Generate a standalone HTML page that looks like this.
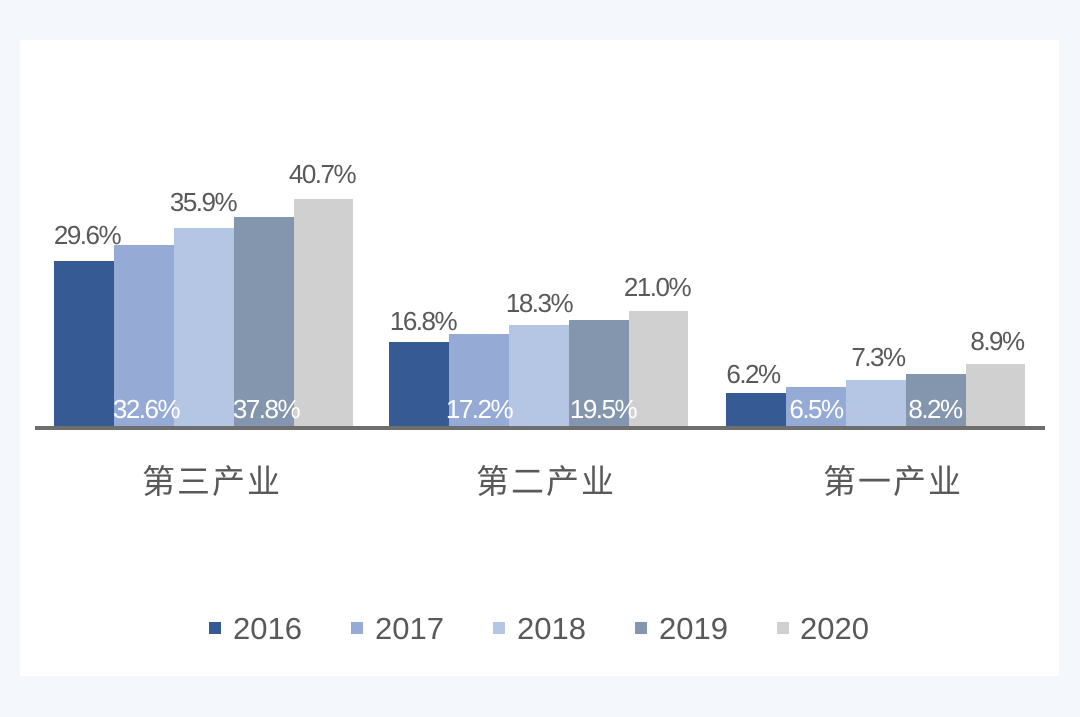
<!DOCTYPE html>
<html><head><meta charset="utf-8"><style>
body{margin:0;background:#f4f8fd;}
</style></head><body>
<svg width="1080" height="717" xmlns="http://www.w3.org/2000/svg" style="display:block">
<rect x="0" y="0" width="1080" height="717" fill="#f4f8fd"/>
<rect x="20" y="40" width="1039" height="636" fill="#ffffff"/>
<g font-family="Liberation Sans, DejaVu Sans, sans-serif" font-size="26" fill="#595959" text-anchor="middle" letter-spacing="-1.5">
<rect x="54" y="261" width="60" height="167" fill="#365a93"/>
<rect x="114" y="245" width="60" height="183" fill="#95abd6"/>
<rect x="174" y="228" width="60" height="200" fill="#b5c6e5"/>
<rect x="234" y="217" width="60" height="211" fill="#8496ae"/>
<rect x="294" y="199" width="59" height="229" fill="#d0d0d0"/>
<text x="87" y="244">29.6%</text>
<text x="203" y="211">35.9%</text>
<text x="322" y="183">40.7%</text>
<text x="146" y="418" fill="#fff">32.6%</text>
<text x="266" y="418" fill="#fff">37.8%</text>
<rect x="389" y="342" width="60" height="86" fill="#365a93"/>
<rect x="449" y="334" width="60" height="94" fill="#95abd6"/>
<rect x="509" y="325" width="60" height="103" fill="#b5c6e5"/>
<rect x="569" y="320" width="60" height="108" fill="#8496ae"/>
<rect x="629" y="311" width="59" height="117" fill="#d0d0d0"/>
<text x="423" y="330">16.8%</text>
<text x="539" y="312">18.3%</text>
<text x="657" y="296">21.0%</text>
<text x="479" y="418" fill="#fff">17.2%</text>
<text x="603" y="418" fill="#fff">19.5%</text>
<rect x="726" y="393" width="60" height="35" fill="#365a93"/>
<rect x="786" y="387" width="60" height="41" fill="#95abd6"/>
<rect x="846" y="380" width="60" height="48" fill="#b5c6e5"/>
<rect x="906" y="374" width="60" height="54" fill="#8496ae"/>
<rect x="966" y="364" width="59" height="64" fill="#d0d0d0"/>
<text x="753" y="383">6.2%</text>
<text x="878" y="366">7.3%</text>
<text x="997" y="350">8.9%</text>
<text x="816" y="418" fill="#fff">6.5%</text>
<text x="935" y="418" fill="#fff">8.2%</text>
</g>
<rect x="35" y="426" width="1010" height="4" fill="#6e6e6e"/>
<g font-family="Liberation Sans, Noto Sans CJK SC, sans-serif" font-size="33" fill="#595959" text-anchor="middle" letter-spacing="2">
<text x="212" y="493">第三产业</text>
<text x="546" y="493">第二产业</text>
<text x="893" y="493">第一产业</text>
</g>
<g font-family="Liberation Sans, DejaVu Sans, sans-serif" font-size="31" fill="#595959">
<rect x="209" y="622" width="12" height="12" fill="#365a93"/><text x="233" y="639">2016</text>
<rect x="351" y="622" width="12" height="12" fill="#95abd6"/><text x="375" y="639">2017</text>
<rect x="493" y="622" width="12" height="12" fill="#b5c6e5"/><text x="517" y="639">2018</text>
<rect x="635" y="622" width="12" height="12" fill="#8496ae"/><text x="659" y="639">2019</text>
<rect x="777" y="622" width="12" height="12" fill="#d0d0d0"/><text x="800" y="639">2020</text>
</g>
</svg>
</body></html>
